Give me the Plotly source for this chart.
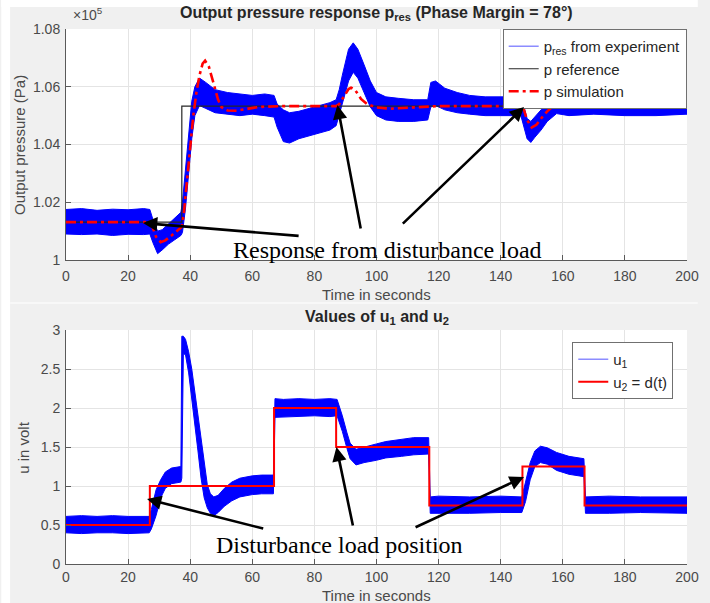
import plotly.graph_objects as go

# ---------------- data: top panel (pressure, in 1e5 Pa) ----------------
t_ref = [0, 37.3, 200]
p_ref = [1.0131, 1.0533, 1.0533]

t_sim = [0, 27, 28, 29, 30.5, 32, 34, 36, 37.3, 38, 39, 40, 41, 42, 43, 44, 44.8, 46, 47, 48, 49,
         50, 52, 55, 58, 62, 70, 80, 87, 88, 89, 90, 91, 91.8, 93, 94, 95, 97, 100, 104.5, 110,
         120, 140, 147, 147.5, 148.5, 150, 151.5, 153, 155, 157, 159, 162, 166, 175, 200]
p_sim = [1.0131, 1.0131, 1.0110, 1.0080, 1.0062, 1.0068, 1.0085, 1.0105, 1.0115, 1.0166, 1.0280,
         1.0400, 1.0500, 1.0580, 1.0640, 1.0680, 1.0690, 1.0670, 1.0630, 1.0590, 1.0555,
         1.0530, 1.0518, 1.0517, 1.0523, 1.0530, 1.0533, 1.0532, 1.0533, 1.0540, 1.0558, 1.0578,
         1.0592, 1.0597, 1.0590, 1.0575, 1.0558, 1.0540, 1.0528, 1.0524, 1.0528,
         1.0533, 1.0533, 1.0533, 1.0520, 1.0485, 1.0459, 1.0468, 1.0490, 1.0515, 1.0535, 1.0542,
         1.0538, 1.0533, 1.0532, 1.0532]

t_exp = [0, 5, 10, 15, 20, 25, 27, 28, 29.5, 31, 33, 35, 37, 37.5, 38.5, 39.5, 40.5, 41.5, 43, 45,
         48, 52, 56, 60, 64, 67, 68, 70, 72, 75, 80, 85, 87, 88, 89, 90, 91, 92.5, 94, 96, 98, 100,
         103, 107, 112, 116.5, 117.5, 119, 122, 126, 130, 135, 140, 146.5, 147.5, 148.5, 149.7,
         151, 153, 155, 158, 162, 170, 180, 190, 200]
p_exp_upper = [1.0175, 1.0178, 1.0172, 1.0176, 1.0174, 1.0178, 1.0175, 1.0140, 1.0100, 1.0105,
               1.0125, 1.0145, 1.0165, 1.0200, 1.0320, 1.0450, 1.0550, 1.0600, 1.0630, 1.0615,
               1.0590, 1.0580, 1.0575, 1.0570, 1.0575, 1.0570, 1.0540, 1.0520, 1.0510, 1.0515,
               1.0530, 1.0545, 1.0555, 1.0590, 1.0640, 1.0690, 1.0730, 1.0752, 1.0730, 1.0676,
               1.0620, 1.0580, 1.0565, 1.0560, 1.0555, 1.0555, 1.0615, 1.0620, 1.0595, 1.0580,
               1.0570, 1.0565, 1.0565, 1.0565, 1.0530, 1.0490, 1.0480, 1.0495, 1.0520, 1.0545,
               1.0568, 1.0570, 1.0570, 1.0575, 1.0570, 1.0565]
p_exp_lower = [1.0090, 1.0088, 1.0090, 1.0085, 1.0089, 1.0088, 1.0090, 1.0060, 1.0022, 1.0035,
               1.0055, 1.0070, 1.0085, 1.0095, 1.0180, 1.0300, 1.0420, 1.0500, 1.0535, 1.0525,
               1.0510, 1.0505, 1.0500, 1.0505, 1.0500, 1.0495, 1.0460, 1.0410, 1.0405, 1.0420,
               1.0435, 1.0450, 1.0465, 1.0500, 1.0540, 1.0580, 1.0620, 1.0650, 1.0630, 1.0580,
               1.0530, 1.0500, 1.0485, 1.0480, 1.0480, 1.0485, 1.0530, 1.0535, 1.0520, 1.0510,
               1.0505, 1.0500, 1.0500, 1.0500, 1.0460, 1.0420, 1.0407, 1.0425, 1.0450, 1.0480,
               1.0507, 1.0500, 1.0505, 1.0500, 1.0500, 1.0505]

# ---------------- data: bottom panel (voltages) ----------------
t_u2 = [0, 27, 67, 87, 117, 147, 167, 200]
u2 = [0.5, 1.0, 2.0, 1.5, 0.75, 1.25, 0.75, 0.75]

t_u1 = [0, 5, 10, 15, 20, 26.8, 27.5, 29, 30.5, 32, 34, 37, 37.3, 37.8, 38.5, 39.5, 40.5, 41.5,
        42.5, 43.5, 44.5, 45.5, 46.5, 47.6, 49, 51, 53.4, 56, 60, 63, 66.8, 67.3, 70, 75, 80, 85,
        87.3, 89, 90.5, 91.5, 93.4, 96, 100, 103, 108, 112, 116.8, 117.3, 120, 130, 140, 146.8,
        148, 149.5, 151, 152.8, 155, 158, 162, 166.8, 167.3, 175, 185, 200]
u1_upper = [0.61, 0.62, 0.61, 0.62, 0.61, 0.61, 0.70, 0.95, 1.08, 1.18, 1.23, 1.25, 2.92, 2.92,
            2.88, 2.72, 2.50, 2.20, 1.90, 1.55, 1.25, 1.02, 0.90, 0.86, 0.88, 0.97, 1.05, 1.10,
            1.13, 1.14, 1.14, 2.12, 2.11, 2.12, 2.11, 2.12, 2.11, 1.90, 1.68, 1.55, 1.47, 1.50,
            1.54, 1.57, 1.60, 1.62, 1.62, 0.86, 0.87, 0.86, 0.87, 0.86, 1.05, 1.30, 1.45, 1.51,
            1.49, 1.43, 1.38, 1.35, 0.86, 0.87, 0.86, 0.86]
u1_lower = [0.40, 0.39, 0.40, 0.40, 0.39, 0.40, 0.45, 0.62, 0.85, 0.97, 1.03, 1.05, 1.10, 2.70,
            2.68, 2.45, 2.15, 1.80, 1.45, 1.10, 0.85, 0.72, 0.65, 0.62, 0.66, 0.74, 0.81, 0.86,
            0.89, 0.90, 0.90, 1.88, 1.88, 1.89, 1.90, 1.89, 1.90, 1.70, 1.48, 1.35, 1.27, 1.30,
            1.33, 1.36, 1.38, 1.40, 1.41, 0.65, 0.65, 0.65, 0.66, 0.66, 0.80, 1.08, 1.25, 1.30,
            1.28, 1.20, 1.15, 1.12, 0.65, 0.65, 0.66, 0.65]

x_ticks = list(range(0, 201, 20))
p_ticks = [1.00, 1.02, 1.04, 1.06, 1.08]
u_ticks = [0, 0.5, 1, 1.5, 2, 2.5, 3]

# ---------------- figure ----------------
W, H = 710, 603
ML, MR, MT, MB = 66, 11, 29, 39
PW, PH = W - ML - MR, H - MT - MB


def px_x(x):
    return (x - ML) / PW


def px_y(y):
    return (H - MB - y) / PH


fig = go.Figure()
BLUE = "#0000ff"
SANS = "Liberation Sans, Arial, sans-serif"
SERIF = "Liberation Serif, Times New Roman, serif"
LABEL_GRAY = "#4a4a4a"

# legend-only entries
fig.add_trace(go.Scatter(x=[None], y=[None], mode="lines", name="p<sub>res</sub> from experiment",
                         line=dict(color="#8c8cff", width=1.5), legend="legend", xaxis="x", yaxis="y"))
# experiment band
fig.add_trace(go.Scatter(x=t_exp + t_exp[::-1], y=p_exp_upper + p_exp_lower[::-1], mode="lines",
                         fill="toself", fillcolor=BLUE, line=dict(color=BLUE, width=1),
                         showlegend=False, hoverinfo="skip", xaxis="x", yaxis="y"))
fig.add_trace(go.Scatter(x=t_ref, y=p_ref, mode="lines", line_shape="hv", name="p reference",
                         line=dict(color="#262626", width=1.2), legend="legend", xaxis="x", yaxis="y"))
fig.add_trace(go.Scatter(x=t_sim, y=p_sim, mode="lines", name="p simulation",
                         line=dict(color="#ff0000", width=2.6, dash="10px,4px,3px,4px"),
                         legend="legend", xaxis="x", yaxis="y"))

fig.add_trace(go.Scatter(x=[None], y=[None], mode="lines", name="u<sub>1</sub>",
                         line=dict(color="#8c8cff", width=1.5), legend="legend2", xaxis="x2", yaxis="y2"))
fig.add_trace(go.Scatter(x=t_u1 + t_u1[::-1], y=u1_upper + u1_lower[::-1], mode="lines",
                         fill="toself", fillcolor=BLUE, line=dict(color=BLUE, width=1),
                         showlegend=False, hoverinfo="skip", xaxis="x2", yaxis="y2"))
fig.add_trace(go.Scatter(x=t_u2, y=u2, mode="lines", line_shape="hv", name="u<sub>2</sub> = d(t)",
                         line=dict(color="#ff0000", width=2), legend="legend2", xaxis="x2", yaxis="y2"))

axis_common = dict(showgrid=True, gridcolor="#e4e4e4", gridwidth=1, zeroline=False,
                   showline=True, linecolor="#5a5a5a", linewidth=1, ticks="inside", ticklen=5,
                   tickcolor="#5a5a5a", tickfont=dict(family=SANS, size=14, color=LABEL_GRAY),
                   mirror=False, ticklabeloverflow="allow")

top_dom = [px_y(260), 1.0]
bot_dom = [0.0, px_y(330)]

fig.update_layout(
    width=W, height=H,
    margin=dict(l=ML, r=MR, t=MT, b=MB),
    paper_bgcolor="#f0f0f0", plot_bgcolor="#ffffff",
    font=dict(family=SANS, color="#262626"),
    xaxis=dict(axis_common, domain=[0, 1], range=[0, 200], tickvals=x_ticks, anchor="y",
               ticklabelstandoff=3),
    yaxis=dict(axis_common, domain=top_dom, range=[1.0, 1.08], tickvals=p_ticks, anchor="x",
               ticklabelstandoff=2),
    xaxis2=dict(axis_common, domain=[0, 1], range=[0, 200], tickvals=x_ticks, anchor="y2",
                ticklabelstandoff=0),
    yaxis2=dict(axis_common, domain=bot_dom, range=[0, 3], tickvals=u_ticks, anchor="x2",
                ticklabelstandoff=2),
    legend=dict(x=0.9995, y=1.0, xanchor="right", yanchor="top", bgcolor="#ffffff",
                bordercolor="#707070", borderwidth=1, font=dict(family=SANS, size=15, color="#262626"),
                tracegroupgap=0, itemwidth=30),
    legend2=dict(x=px_x(685), y=px_y(342), xanchor="right", yanchor="top", bgcolor="#ffffff",
                 bordercolor="#707070", borderwidth=1, font=dict(family=SANS, size=15, color="#262626"),
                 tracegroupgap=0, itemwidth=30),
    showlegend=True,
)

# panel decorations (white strips outside the gray panels)
fig.add_shape(type="rect", xref="paper", yref="paper", x0=px_x(0), x1=px_x(9), y0=px_y(603), y1=px_y(0),
              fillcolor="#ffffff", line_width=0, layer="below")
fig.add_shape(type="rect", xref="paper", yref="paper", x0=px_x(0), x1=px_x(710), y0=px_y(7), y1=px_y(0),
              fillcolor="#ffffff", line_width=0, layer="below")
fig.add_shape(type="line", xref="paper", yref="paper", x0=px_x(9), x1=px_x(710), y0=px_y(303), y1=px_y(303),
              line=dict(color="#f8f8f8", width=2), layer="below")


def paper_text(text, x, y, size, color, angle=0, xanchor="center"):
    return dict(text=text, x=px_x(x), y=px_y(y), xref="paper", yref="paper", showarrow=False,
                xanchor=xanchor, yanchor="middle", textangle=angle,
                font=dict(family=SANS, size=size, color=color))


annotations = [
    paper_text("<b>Output pressure response p<sub>res</sub> (Phase Margin = 78°)</b>", 382, 13, 16, "#262626"),
    paper_text("<b>Values of u<sub>1</sub> and u<sub>2</sub></b>", 383, 317, 16, "#262626"),
    paper_text("×10<sup>5</sup>", 71, 14, 14, LABEL_GRAY, xanchor="left"),
    paper_text("Output pressure (Pa)", 18, 145, 15, LABEL_GRAY, angle=-90),
    paper_text("u in volt", 22, 447, 15, LABEL_GRAY, angle=-90),
    paper_text("Time in seconds", 383, 294, 15, LABEL_GRAY),
    paper_text("Time in seconds", 383, 595, 15, LABEL_GRAY),
    dict(text="Response from disturbance load", x=103.4, y=1.0035, xref="x", yref="y", showarrow=False,
         font=dict(family=SERIF, size=24, color="#000000")),
    dict(text="Disturbance load position", x=88.1, y=0.244, xref="x2", yref="y2", showarrow=False,
         font=dict(family=SERIF, size=24, color="#000000")),
]

arrows_top = [((24.8, 1.0128), (75.4, 1.0083)), ((87.4, 1.0537), (95.0, 1.0104)),
              ((147.5, 1.0530), (108.0, 1.0121))]
arrows_bot = [((26.1, 0.833), (64.0, 0.449)), ((87.1, 1.50), (92.5, 0.474)),
              ((147.5, 1.115), (112.1, 0.462))]
for (tip, tail) in arrows_top:
    annotations.append(dict(text="", x=tip[0], y=tip[1], ax=tail[0], ay=tail[1], xref="x", yref="y",
                            axref="x", ayref="y", showarrow=True, arrowhead=2, arrowsize=1.1,
                            arrowwidth=2.6, arrowcolor="#000000", standoff=0))
for (tip, tail) in arrows_bot:
    annotations.append(dict(text="", x=tip[0], y=tip[1], ax=tail[0], ay=tail[1], xref="x2", yref="y2",
                            axref="x2", ayref="y2", showarrow=True, arrowhead=2, arrowsize=1.1,
                            arrowwidth=2.6, arrowcolor="#000000", standoff=0))
fig.update_layout(annotations=annotations)

fig.write_html("out.html")
